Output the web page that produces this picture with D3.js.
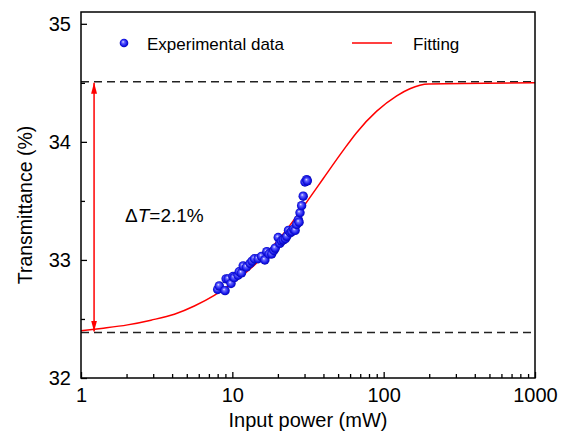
<!DOCTYPE html>
<html>
<head>
<meta charset="utf-8">
<script src="https://cdn.jsdelivr.net/npm/d3@7"></script>
<style>
  body { margin: 0; background: #fff; }
  svg { display: block; font-family: "Liberation Sans", Arial, sans-serif; }
</style>
</head>
<body>
<svg id="chart" width="566" height="435"></svg>
<script>
// ---- data ----
const expPower = [8.0, 8.2, 8.95, 9.1, 9.4, 9.8, 10.1, 10.3, 10.9, 11.1, 11.5, 11.8, 12.4, 13.1, 13.5, 14.0, 14.8, 15.6, 16.4, 16.9, 17.5, 18.2, 18.8, 19.2, 20.1, 20.6, 21.1, 21.7, 22.4, 22.9, 23.5, 24.2, 24.7, 25.4, 26.0, 26.6, 27.3, 27.6, 28.0, 28.7, 29.4, 30.2, 31.0, 31.3];
const expTrans = [32.75, 32.78, 32.74, 32.84, 32.84, 32.80, 32.86, 32.85, 32.87, 32.90, 32.89, 32.95, 32.94, 32.97, 32.99, 33.01, 33.01, 33.03, 33.00, 33.07, 33.05, 33.05, 33.08, 33.10, 33.19, 33.14, 33.16, 33.17, 33.18, 33.20, 33.25, 33.23, 33.24, 33.26, 33.25, 33.30, 33.34, 33.32, 33.40, 33.46, 33.54, 33.66, 33.68, 33.67];
const fitPower = [1, 1.36, 2.03, 2.9, 4.14, 5.61, 7.6, 10.4, 15.2, 22.3, 32.6, 39.9, 54.2, 66.4, 90, 122, 149, 198, 1000];
const fitTrans = [32.40, 32.42, 32.45, 32.49, 32.54, 32.61, 32.70, 32.82, 33.00, 33.24, 33.53, 33.69, 33.93, 34.08, 34.26, 34.39, 34.45, 34.49, 34.50];
const levelTop = 34.51;
const levelBottom = 32.385;
const xTickValues = [1, 10, 100, 1000];
const yTickValues = [32, 33, 34, 35];
const legendLabels = ["Experimental data", "Fitting"];
const annotationLabel = "T=2.1%";

// ---- layout ----
const svg = d3.select("#chart");
const L = 81, R = 535, T = 12, B = 378;
const x = d3.scaleLog().domain([1, 1000]).range([L, R]);
const y = d3.scaleLinear().domain([32, 35.1]).range([B, T]);

const defs = svg.append("defs");
const grad = defs.append("radialGradient").attr("id", "ball")
  .attr("cx", "0.5").attr("cy", "0.5").attr("r", "0.55")
  .attr("fx", "0.38").attr("fy", "0.35");
grad.append("stop").attr("offset", "0%").attr("stop-color", "#f0f0ff");
grad.append("stop").attr("offset", "25%").attr("stop-color", "#6a6aff");
grad.append("stop").attr("offset", "70%").attr("stop-color", "#1515e8");
grad.append("stop").attr("offset", "100%").attr("stop-color", "#0000a0");

const m = defs.append("marker").attr("id", "arrow")
  .attr("viewBox", "0 0 10 10").attr("refX", 10).attr("refY", 5)
  .attr("markerWidth", 11).attr("markerHeight", 11)
  .attr("markerUnits", "userSpaceOnUse").attr("orient", "auto");
m.append("path").attr("d", "M0,2.3 L10,5 L0,7.7 Z").attr("fill", "red");

// dashed reference levels
svg.selectAll("line.level").data([levelTop, levelBottom]).enter().append("line")
  .attr("x1", L).attr("x2", R)
  .attr("y1", d => y(d)).attr("y2", d => y(d))
  .attr("stroke", "#222").attr("stroke-width", 1.5)
  .attr("stroke-dasharray", "8,5");

// fit line
const fitData = fitPower.map((p, i) => [p, fitTrans[i]]);
svg.append("path").datum(fitData)
  .attr("fill", "none").attr("stroke", "red").attr("stroke-width", 1.5)
  .attr("d", d3.line().x(d => x(d[0])).y(d => y(d[1])).curve(d3.curveMonotoneX));

// double arrow
const ax = x(1.22);
const mid = (y(levelTop) + y(levelBottom)) / 2;
[y(levelTop) + 1, y(levelBottom) - 1].forEach(end => {
  svg.append("line")
    .attr("x1", ax).attr("x2", ax).attr("y1", mid).attr("y2", end)
    .attr("stroke", "red").attr("stroke-width", 1.5).attr("marker-end", "url(#arrow)");
});

// scatter
const expData = expPower.map((p, i) => [p, expTrans[i]]);
svg.selectAll("circle.exp").data(expData).enter().append("circle")
  .attr("class", "exp")
  .attr("cx", d => x(d[0])).attr("cy", d => y(d[1])).attr("r", 4.7)
  .attr("fill", "url(#ball)");

// axes
const xMinor = [];
for (let dec = 1; dec < 1000; dec *= 10) for (let k = 2; k <= 9; k++) xMinor.push(dec * k);
svg.append("g").attr("transform", `translate(0,${B})`)
  .call(d3.axisBottom(x).tickValues(xTickValues).tickFormat(d3.format("d"))
    .tickSizeInner(-6).tickSizeOuter(0).tickPadding(10));
svg.append("g").attr("transform", `translate(0,${B})`)
  .call(d3.axisBottom(x).tickValues(xMinor).tickFormat("").tickSizeInner(-4).tickSizeOuter(0));

svg.append("g").attr("transform", `translate(${L},0)`)
  .call(d3.axisLeft(y).tickValues(yTickValues).tickFormat(d3.format("d"))
    .tickSizeInner(-6).tickSizeOuter(0).tickPadding(10));
svg.append("g").attr("transform", `translate(${L},0)`)
  .call(d3.axisLeft(y).tickValues([32.5, 33.5, 34.5]).tickFormat("").tickSizeInner(-4).tickSizeOuter(0));

svg.selectAll(".tick line").attr("stroke", "#000").attr("stroke-width", 1.3);
svg.selectAll(".tick text").attr("font-size", 20).attr("fill", "#000")
  .attr("font-family", "Liberation Sans, Arial, sans-serif");
svg.selectAll(".domain").remove();

// frame
svg.append("rect").attr("x", L).attr("y", T).attr("width", R - L).attr("height", B - T)
  .attr("fill", "none").attr("stroke", "#000").attr("stroke-width", 1.5);

// axis titles
svg.append("text").attr("x", (L + R) / 2).attr("y", 427)
  .attr("text-anchor", "middle").attr("font-size", 20).text("Input power (mW)");
svg.append("text").attr("transform", `translate(32,${(T + B) / 2 + 10}) rotate(-90)`)
  .attr("text-anchor", "middle").attr("font-size", 19.5).text("Transmittance (%)");

// legend
svg.append("circle").attr("cx", 124).attr("cy", 43).attr("r", 4.3).attr("fill", "url(#ball)");
svg.append("text").attr("x", 147).attr("y", 49.5).attr("font-size", 17).text(legendLabels[0]);
svg.append("line").attr("x1", 352).attr("x2", 392).attr("y1", 43).attr("y2", 43)
  .attr("stroke", "red").attr("stroke-width", 1.5);
svg.append("text").attr("x", 413).attr("y", 49.5).attr("font-size", 17).text(legendLabels[1]);

// annotation
const ann = svg.append("text").attr("x", 125).attr("y", 222).attr("font-size", 19);
ann.append("tspan").text("\u0394");
ann.append("tspan").attr("font-style", "italic").text(annotationLabel.slice(0, 1));
ann.append("tspan").text(annotationLabel.slice(1));
</script>
</body>
</html>
